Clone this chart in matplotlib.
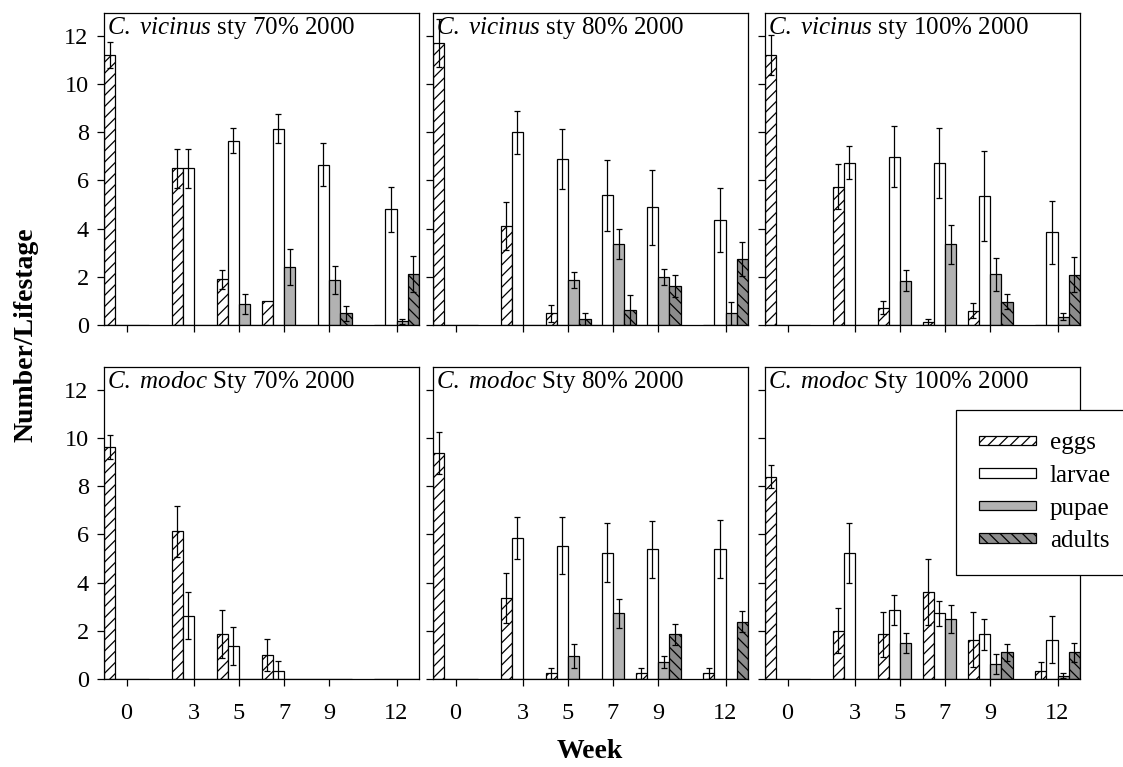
import numpy as np
import matplotlib.pyplot as plt

plt.rcParams['font.family'] = 'Liberation Serif'
plt.rcParams['mathtext.fontset'] = 'custom'
plt.rcParams['mathtext.it'] = 'Liberation Serif:italic'
plt.rcParams['mathtext.rm'] = 'Liberation Serif'
plt.rcParams['hatch.linewidth'] = 0.9

weeks = [0, 3, 5, 7, 9, 12]
stages = ['eggs', 'larvae', 'pupae', 'adults']

# mean counts per stage (rows: eggs, larvae, pupae, adults) and standard errors
vic70_mean = [[11.2, 6.5, 1.9, 1.0, 0, 0],
              [0, 6.5, 7.65, 8.15, 6.65, 4.8],
              [0, 0, 0.87, 2.4, 1.87, 0.15],
              [0, 0, 0, 0, 0.48, 2.12]]
vic70_err = [[0.55, 0.8, 0.4, 0, 0, 0],
             [0, 0.8, 0.52, 0.6, 0.9, 0.93],
             [0, 0, 0.4, 0.75, 0.58, 0.1],
             [0, 0, 0, 0, 0.3, 0.75]]

vic80_mean = [[11.7, 4.1, 0.48, 0, 0, 0],
              [0, 8.0, 6.9, 5.38, 4.88, 4.36],
              [0, 0, 1.87, 3.36, 2.0, 0.48],
              [0, 0, 0.24, 0.62, 1.62, 2.74]]
vic80_err = [[1.0, 1.0, 0.35, 0, 0, 0],
             [0, 0.9, 1.25, 1.47, 1.55, 1.34],
             [0, 0, 0.33, 0.61, 0.33, 0.48],
             [0, 0, 0.24, 0.62, 0.46, 0.71]]

vic100_mean = [[11.2, 5.74, 0.72, 0.12, 0.6, 0],
               [0, 6.74, 6.99, 6.71, 5.36, 3.85],
               [0, 0, 1.84, 3.35, 2.1, 0.35],
               [0, 0, 0, 0, 0.97, 2.08]]
vic100_err = [[0.82, 0.93, 0.28, 0.12, 0.33, 0],
              [0, 0.7, 1.26, 1.45, 1.88, 1.31],
              [0, 0, 0.44, 0.8, 0.69, 0.16],
              [0, 0, 0, 0, 0.3, 0.73]]

mod70_mean = [[9.63, 6.13, 1.86, 1.0, 0, 0],
              [0, 2.63, 1.36, 0.35, 0, 0],
              [0, 0, 0, 0, 0, 0],
              [0, 0, 0, 0, 0, 0]]
mod70_err = [[0.5, 1.05, 0.99, 0.65, 0, 0],
             [0, 0.97, 0.79, 0.39, 0, 0],
             [0, 0, 0, 0, 0, 0],
             [0, 0, 0, 0, 0, 0]]

mod80_mean = [[9.38, 3.36, 0.24, 0, 0.24, 0.24],
              [0, 5.86, 5.54, 5.25, 5.38, 5.38],
              [0, 0, 0.97, 2.72, 0.72, 0],
              [0, 0, 0, 0, 1.86, 2.38]]
mod80_err = [[0.86, 1.04, 0.23, 0, 0.23, 0.23],
             [0, 0.88, 1.2, 1.24, 1.17, 1.2],
             [0, 0, 0.5, 0.6, 0.25, 0],
             [0, 0, 0, 0, 0.44, 0.43]]

mod100_mean = [[8.4, 2.0, 1.86, 3.61, 1.63, 0.33],
               [0, 5.24, 2.85, 2.72, 1.86, 1.63],
               [0, 0, 1.49, 2.49, 0.61, 0.14],
               [0, 0, 0, 0, 1.1, 1.1]]
mod100_err = [[0.47, 0.93, 0.94, 1.38, 1.14, 0.39],
              [0, 1.25, 0.62, 0.5, 0.65, 0.97],
              [0, 0, 0.42, 0.6, 0.42, 0.1],
              [0, 0, 0, 0, 0.35, 0.39]]

panels = [
    (r'$\mathit{C.\ vicinus}$ sty 70% 2000', vic70_mean, vic70_err),
    (r'$\mathit{C.\ vicinus}$ sty 80% 2000', vic80_mean, vic80_err),
    (r'$\mathit{C.\ vicinus}$ sty 100% 2000', vic100_mean, vic100_err),
    (r'$\mathit{C.\ modoc}$ Sty 70% 2000', mod70_mean, mod70_err),
    (r'$\mathit{C.\ modoc}$ Sty 80% 2000', mod80_mean, mod80_err),
    (r'$\mathit{C.\ modoc}$ Sty 100% 2000', mod100_mean, mod100_err),
]

# bar styles for each life stage
styles = [
    dict(facecolor='white', hatch='///'),
    dict(facecolor='white', hatch=None),
    dict(facecolor='#b2b2b2', hatch=None),
    dict(facecolor='#8c8c8c', hatch='\\\\\\'),
]
offsets = [-0.75, -0.25, 0.25, 0.75]
width = 0.5

W, H = 1123, 767
fig = plt.figure(figsize=(W / 100, H / 100), dpi=100)

col_x = [104, 433, 765]
row_y = [(13, 325), (367, 679)]
ax_w = 315

axes = []
for i, (title, mean, err) in enumerate(panels):
    r, c = divmod(i, 3)
    top, bot = row_y[r]
    ax = fig.add_axes([col_x[c] / W, 1 - bot / H, ax_w / W, (bot - top) / H])
    axes.append(ax)
    x = np.array(weeks, dtype=float)
    for k in range(4):
        vals = np.array(mean[k])
        errs = np.array(err[k])
        ax.bar(x + offsets[k], vals, width, edgecolor='black', linewidth=0.9,
               label=stages[k], **styles[k])
        show = errs > 0
        ax.errorbar(x[show] + offsets[k], vals[show], yerr=errs[show], fmt='none',
                    ecolor='black', elinewidth=0.9, capsize=2.5, capthick=0.9)
    ax.set_xlim(-1, 13)
    ax.set_ylim(0, 12.95)
    ax.set_xticks(weeks)
    ax.set_yticks(range(0, 13, 2))
    ax.tick_params(axis='both', direction='out', length=5, width=0.9, labelsize=17.5)
    ax.tick_params(axis='x', pad=12)
    ax.tick_params(axis='y', pad=6)
    for s in ax.spines.values():
        s.set_linewidth(0.9)
    if r == 0:
        ax.tick_params(axis='x', labelbottom=False)
    if c > 0:
        ax.tick_params(axis='y', labelleft=False)
    ax.text(0.01, 0.995, title, transform=ax.transAxes, ha='left', va='top',
            fontsize=18)

handles, labels = axes[0].get_legend_handles_labels()
bar_handles = [h for h in handles if hasattr(h, 'patches')]
leg = fig.legend(bar_handles, stages, loc='upper left',
                 bbox_to_anchor=(956 / W, 1 - 410 / H), borderaxespad=0,
                 fontsize=18, handlelength=2.3, handleheight=0.22,
                 handletextpad=0.55, labelspacing=0.42, borderpad=0.9,
                 fancybox=False, framealpha=1, edgecolor='black')
leg.get_frame().set_linewidth(0.9)

fig.text(26 / W, 1 - 335 / H, 'Number/Lifestage', rotation=90, ha='center',
         va='center', fontsize=20, fontweight='bold')
fig.text(590 / W, 1 - 752 / H, 'Week', ha='center', va='center',
         fontsize=20, fontweight='bold')

fig.savefig('out.png', dpi=100)
